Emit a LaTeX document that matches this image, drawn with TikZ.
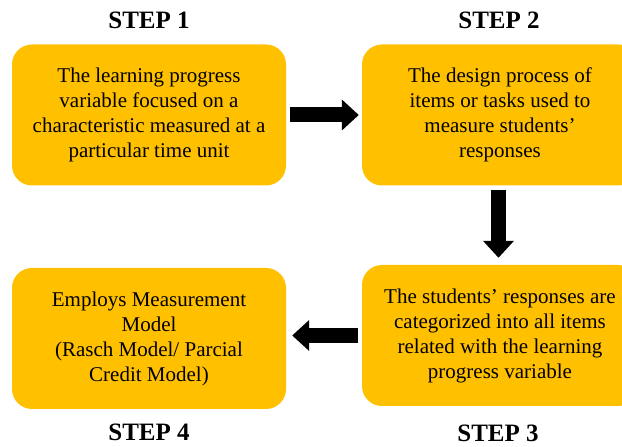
\documentclass[tikz,border=0pt]{standalone}
\usepackage{fontspec}
\setmainfont{Liberation Serif}
\usetikzlibrary{positioning, arrows.meta}
\definecolor{stepfill}{HTML}{FFC000}
\tikzset{
    x=1pt, y=1pt, % one unit is one pixel of the layout
    stepbox/.style={rounded corners=20pt, fill=stepfill, inner sep=0pt,
        minimum height=141pt, align=center,
        font=\rmfamily\fontsize{21}{25}\selectfont}, % the yellow boxes
    steplabel/.style={font=\rmfamily\fontsize{25}{28}\selectfont\bfseries}, % STEP n titles
    flow/.style={line width=15pt, -{Triangle[length=17pt,width=30pt]}}, % fat black arrows
}

\begin{document}
\begin{tikzpicture}
    \clip (0,0) rectangle (622,447);
    \node[stepbox, minimum width=274pt] (s1) at (149,332)
        {The learning progress\\variable focused on a\\characteristic measured at a\\particular time unit};
    \node[stepbox, minimum width=276pt] (s2) at (500,332)
        {The design process of\\items or tasks used to\\measure students'\\responses};
    \node[stepbox, minimum width=276pt] (s3) at (500,111.5)
        {The students' responses are\\categorized into all items\\related with the learning\\progress variable};
    \node[stepbox, minimum width=274pt] (s4) at (149,108.5)
        {Employs Measurement\\Model\\(Rasch Model/ Parcial\\Credit Model)};
    \node[steplabel] (l1) at (149,427) {STEP 1};
    \node[steplabel] (l2) at (499,427) {STEP 2};
    \node[steplabel] (l3) at (498,14) {STEP 3};
    \node[steplabel] (l4) at (149,15) {STEP 4};
    \draw[flow, shorten <=4pt, shorten >=3pt] (s1.east) -- (s2.west);
    \draw[flow, shorten <=4pt, shorten >=7pt] ([xshift=-1.5pt]s2.south) -- ([xshift=-1.5pt]s2.south |- s3.north);
    \draw[flow, shorten <=4pt, shorten >=6pt] (s3.west) -- (s3.west -| s4.east);
\end{tikzpicture}
\end{document}
